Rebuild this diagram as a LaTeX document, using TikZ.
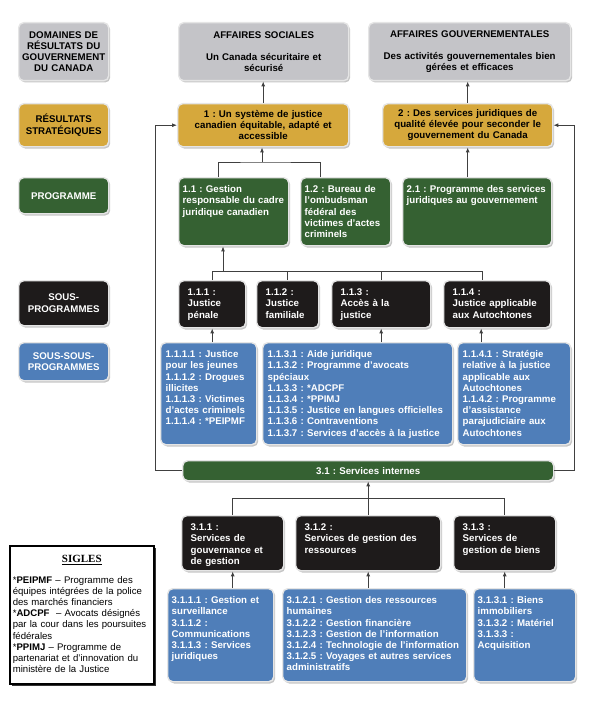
\documentclass[tikz,border=0pt]{standalone}
\usepackage{fontspec}
\setmainfont{Liberation Sans}
\newfontfamily\titre{Liberation Serif}
\usepackage{tikz}
\usetikzlibrary{arrows.meta,shadows}
\frenchspacing
\definecolor{grisC}{RGB}{196,196,200}
\definecolor{orC}{RGB}{214,168,60}
\definecolor{vertC}{RGB}{53,97,50}
\definecolor{noirC}{RGB}{30,27,27}
\definecolor{bleuC}{RGB}{79,126,185}
\tikzset{
Boite/.style={
 rounded corners=5pt,
 draw=black!10,
 line width=1.4pt,
 drop shadow={shadow xshift=1.5pt,shadow yshift=-1.8pt,opacity=0.45},
 anchor=north west,
 font=\bfseries\fontsize{9.7}{11.2}\selectfont
 },
Centre/.style={
 Boite,
 align=center,
 inner xsep=4pt,
 inner ysep=0pt
 },
Haut/.style={
 Boite,
 align=left,
 text height=10pt,
 text depth=#1,
 inner xsep=4pt,
 inner ysep=5pt
 },
Gris/.style={fill=grisC,text=black},
Or/.style={fill=orC,text=black},
Vert/.style={fill=vertC,text=white},
Noir/.style={fill=noirC,text=white},
Bleu/.style={fill=bleuC,text=white},
Legende/.style={
 draw=black,
 line width=1.6pt,
 fill=white,
 drop shadow={shadow xshift=2.5pt,shadow yshift=-2.5pt,fill=black!80,opacity=1},
 anchor=north west,
 inner xsep=3pt,
 inner ysep=3pt,
 text width=138pt,
 text height=14pt,
 text depth=118pt,
 font=\fontsize{9.6}{11.2}\selectfont
 },
Trait/.style={
 draw=black!75,
 line width=0.9pt
 },
Fleche/.style={
 Trait,
 -{Latex[length=5pt,width=4pt]}
 }
}
\begin{document}
\begin{tikzpicture}[x=1pt,y=-1pt]
\useasboundingbox (0,0) rectangle (590,706);
\node[Centre,Gris,inner xsep=2pt,text width=86pt,minimum height=58pt] (dom) at (18,22) {DOMAINES DE\\RÉSULTATS DU\\GOUVERNEMENT\\DU CANADA};
\node[Centre,Or,inner xsep=2pt,text width=86pt,minimum height=43pt] (strat) at (18,103) {RÉSULTATS\\STRATÉGIQUES};
\node[Centre,Vert,inner xsep=2pt,text width=86pt,minimum height=36pt] (prog) at (18,177) {PROGRAMME};
\node[Centre,Noir,inner xsep=2pt,text width=86pt,minimum height=45pt] (sp) at (18,280) {SOUS-\\PROGRAMMES};
\node[Centre,Bleu,inner xsep=2pt,text width=86pt,minimum height=38pt] (ssp) at (18,342) {SOUS-SOUS-\\PROGRAMMES};

\node[Centre,Gris,text width=162pt,minimum height=58pt] (soc) at (178,22) {AFFAIRES SOCIALES\\[10.8pt]Un Canada sécuritaire et\\sécurisé};
\node[Centre,Gris,text width=194pt,minimum height=58pt] (gouv) at (368,22) {AFFAIRES GOUVERNEMENTALES\\[10.8pt]Des activités gouvernementales bien\\gérées et efficaces};
\node[Centre,Or,text width=163pt,minimum height=43pt] (r1) at (177,103) {1 : Un système de justice\\canadien équitable, adapté et\\accessible};
\node[Centre,Or,text width=162pt,minimum height=43pt] (r2) at (382,103) {2 : Des services juridiques de\\qualité élevée pour seconder le\\gouvernement du Canada};

\node[Haut=48pt,Vert,text width=102pt] (p11) at (178,177) {1.1 : Gestion\\responsable du cadre\\juridique canadien};
\node[Haut=48pt,Vert,text width=82pt] (p12) at (300,177) {1.2 : Bureau de\\l'ombudsman\\fédéral des\\victimes d'actes\\criminels};
\node[Haut=48pt,Vert,text width=141pt] (p21) at (402,177) {2.1 : Programme des services\\juridiques au gouvernement};

\node[Haut=27pt,Noir,inner xsep=9pt,text width=49pt] (s111) at (178,280) {1.1.1 :\\Justice\\pénale};
\node[Haut=27pt,Noir,inner xsep=9pt,text width=44pt] (s112) at (256,280) {1.1.2 :\\Justice\\familiale};
\node[Haut=27pt,Noir,inner xsep=9pt,text width=81pt] (s113) at (331,280) {1.1.3 :\\Accès à la\\justice};
\node[Haut=27pt,Noir,inner xsep=9pt,text width=89pt] (s114) at (443,280) {1.1.4 :\\Justice applicable\\aux Autochtones};

\node[Haut=82pt,Bleu,inner xsep=5pt,text width=86pt] (ss111) at (160,342) {1.1.1.1 : Justice\\pour les jeunes\\1.1.1.2 : Drogues\\illicites\\1.1.1.3 : Victimes\\d’actes criminels\\1.1.1.4 : *PEIPMF};
\node[Haut=82pt,Bleu,inner xsep=5pt,text width=180pt] (ss113) at (262,342) {1.1.3.1 : Aide juridique\\1.1.3.2 : Programme d’avocats\\spéciaux\\1.1.3.3 : *ADCPF\\1.1.3.4 : *PPIMJ\\1.1.3.5 : Justice en langues officielles\\1.1.3.6 : Contraventions\\1.1.3.7 : Services d’accès à la justice};
\node[Haut=82pt,Bleu,inner xsep=5pt,text width=103pt] (ss114) at (457,342) {1.1.4.1 : Stratégie\\relative à la justice\\applicable aux\\Autochtones\\1.1.4.2 : Programme\\d’assistance\\parajudiciaire aux\\Autochtones};

\node[Centre,Vert,text width=363pt,minimum height=20pt] (si) at (182,460) {3.1 : Services internes};

\node[Haut=35pt,Noir,inner xsep=9pt,text width=84pt] (n311) at (181,515) {3.1.1 :\\Services de\\gouvernance et\\de gestion};
\node[Haut=35pt,Noir,inner xsep=9pt,text width=127pt] (n312) at (295,515) {3.1.2 :\\Services de gestion des\\ressources};
\node[Haut=35pt,Noir,inner xsep=9pt,text width=84pt] (n313) at (453,515) {3.1.3 :\\Services de\\gestion de biens};

\node[Haut=73pt,Bleu,text width=98pt] (ss311) at (167,588) {3.1.1.1 : Gestion et\\surveillance\\3.1.1.2 :\\Communications\\3.1.1.3 : Services\\juridiques};
\node[Haut=73pt,Bleu,text width=176pt] (ss312) at (282,588) {3.1.2.1 : Gestion des ressources\\humaines\\3.1.2.2 : Gestion financière\\3.1.2.3 : Gestion de l'information\\3.1.2.4 : Technologie de l'information\\3.1.2.5 : Voyages et autres services\\administratifs};
\node[Haut=73pt,Bleu,text width=94pt] (ss313) at (473,588) {3.1.3.1 : Biens\\immobiliers\\3.1.3.2 : Matériel\\3.1.3.3 :\\Acquisition};

\node[Legende] (sigles) at (9,545) {{\centering\titre\bfseries\fontsize{11}{13}\selectfont\underline{SIGLES}\par}\vspace{9pt}\raggedright
{*}\textbf{PEIPMF} – Programme des\\équipes intégrées de la police\\des marchés financiers\\{*}\textbf{ADCPF}~ – Avocats désignés\\par la cour dans les poursuites\\fédérales\\{*}\textbf{PPIMJ} – Programme de\\partenariat et d’innovation du\\ministère de la Justice};

\coordinate (j1) at (262,162);
\coordinate (j2) at (223,271);
\coordinate (j3) at (0,498);
\coordinate (gauche) at (155,0);
\coordinate (droite) at (574,0);

\draw[Fleche] (r1.north) -- (r1.north |- soc.south);
\draw[Fleche] (r2.north) -- (r2.north |- gouv.south);
\draw[Trait] ([xshift=-15pt]p11.north) |- (j1) -| ([xshift=-25pt]p12.north);
\draw[Fleche] (j1) -- (j1 |- r1.south);
\draw[Fleche] (r2.south |- p21.north) -- (r2.south);
\draw[Trait] (s111.north) |- ([xshift=-15pt]s114.north |- j2) -- ([xshift=-15pt]s114.north);
\draw[Trait] (s112.north) -- (s112.north |- j2);
\draw[Trait] (s113.north) -- (s113.north |- j2);
\draw[Fleche] (j2) -- (j2 |- p11.south);
\draw[Fleche] (s111.south |- ss111.north) -- (s111.south);
\draw[Fleche] (s113.south |- ss113.north) -- (s113.south);
\draw[Fleche] ([xshift=-16pt]s114.south |- ss114.north) -- ([xshift=-16pt]s114.south);
\draw[Fleche] (si.west) -- (si.west -| gauche) |- (r1.west);
\draw[Fleche] (si.east) -- (si.east -| droite) |- (r2.east);
\draw[Trait] (n311.north) |- (n313.north |- j3) -- (n313.north);
\draw[Fleche] (n312.north) -- (n312.north |- si.south);
\draw[Fleche] (n311.south |- ss311.north) -- (n311.south);
\draw[Fleche] (n312.south |- ss312.north) -- (n312.south);
\draw[Fleche] (n313.south |- ss313.north) -- (n313.south);
\end{tikzpicture}
\end{document}
